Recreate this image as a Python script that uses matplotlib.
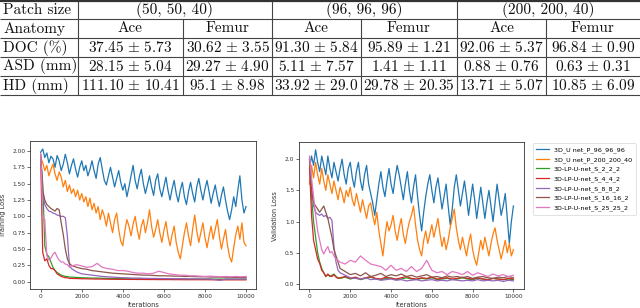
import numpy as np
import matplotlib
matplotlib.use("Agg")
import matplotlib.pyplot as plt

plt.rcParams['mathtext.fontset'] = 'cm'

# ---------------- table data ----------------
patch_sizes = ["(50, 50, 40)", "(96, 96, 96)", "(200, 200, 40)"]
anatomies = ["Ace", "Femur"]
row_names = ["DOC (%)", "ASD (mm)", "HD (mm)"]
doc_vals = ["37.45 ± 5.73", "30.62 ± 3.55", "91.30 ± 5.84", "95.89 ± 1.21", "92.06 ± 5.37", "96.84 ± 0.90"]
asd_vals = ["28.15 ± 5.04", "29.27 ± 4.90", "5.11 ± 7.57", "1.41 ± 1.11", "0.88 ± 0.76", "0.63 ± 0.31"]
hd_vals = ["111.10 ± 10.41", "95.1 ± 8.98", "33.92 ± 29.0", "29.78 ± 20.35", "13.71 ± 5.07", "10.85 ± 6.09"]

# ---------------- loss curves ----------------
labels = ["3D_U net_P_96_96_96", "3D_U net_P_200_200_40", "3D-LP-U-net_S_2_2_2",
          "3D-LP-U-net_S_4_4_2", "3D-LP-U-net_S_8_8_2", "3D-LP-U-net_S_16_16_2",
          "3D-LP-U-net_S_25_25_2"]

it_full = np.arange(0, 10001, 100)
it_low = np.concatenate([np.arange(0, 1500, 100), np.arange(1500, 10001, 250)])

train_p96 = [1.98, 2.03, 1.90, 1.97, 1.82, 1.92, 1.88, 1.75, 1.93, 1.85, 1.70,
             1.80, 1.95, 1.82, 1.65, 1.78, 1.88, 1.72, 1.60, 1.75, 1.85,
             1.70, 1.78, 1.62, 1.72, 1.85, 1.70, 1.58, 1.80, 1.90, 1.72,
             1.55, 1.48, 1.62, 1.75, 1.60, 1.45, 1.58, 1.70, 1.52, 1.40,
             1.50, 1.30, 1.45, 1.62, 1.78, 1.55, 1.42, 1.60, 1.72, 1.50,
             1.35, 1.48, 1.62, 1.45, 1.32, 1.55, 1.65, 1.42, 1.30, 1.45,
             1.60, 1.40, 1.25, 1.42, 1.55, 1.35, 1.22, 1.40, 1.52, 1.30,
             1.18, 1.38, 1.52, 1.35, 1.22, 1.45, 1.58, 1.40, 1.25, 1.42,
             1.55, 1.38, 1.20, 1.35, 1.48, 1.30, 1.15, 1.32, 1.45, 1.25,
             1.08, 0.95, 1.10, 1.30, 1.15, 1.40, 1.62, 1.25, 1.05, 1.15]
train_p200 = [1.90, 1.82, 1.70, 1.78, 1.62, 1.72, 1.80, 1.65, 1.55, 1.68, 1.60,
              1.45, 1.55, 1.38, 1.48, 1.35, 1.42, 1.30, 1.40, 1.25, 1.35,
              1.22, 1.30, 1.15, 1.28, 1.10, 1.20, 1.05, 1.15, 0.95, 1.10,
              1.00, 0.85, 1.05, 0.90, 0.75, 0.95, 1.05, 0.80, 0.62, 0.55,
              0.78, 0.95, 0.85, 0.70, 0.88, 1.00, 0.80, 0.65, 0.85, 0.95,
              0.75, 0.90, 1.10, 0.85, 0.68, 0.80, 0.95, 0.75, 0.60, 0.78,
              0.92, 0.70, 0.55, 0.72, 0.85, 0.60, 0.45, 0.35, 0.55, 0.75,
              0.90, 0.70, 0.55, 0.80, 1.02, 0.78, 0.60, 0.75, 0.90, 0.68,
              0.52, 0.70, 0.85, 0.65, 0.80, 0.95, 0.70, 0.50, 0.65, 0.80,
              0.55, 0.38, 0.30, 0.52, 0.72, 0.85, 0.65, 0.90, 0.60, 0.55]
train_s2 = [1.90, 1.50, 0.55, 0.42, 0.38, 0.30, 0.22, 0.17, 0.14, 0.12, 0.10, 0.09, 0.08, 0.08, 0.07,
            0.07, 0.065, 0.06, 0.058, 0.055, 0.055, 0.052, 0.05, 0.05, 0.048, 0.05, 0.047, 0.045,
            0.047, 0.045, 0.044, 0.045, 0.043, 0.042, 0.044, 0.042, 0.041, 0.042, 0.04, 0.041,
            0.04, 0.04, 0.041, 0.039, 0.04, 0.039, 0.04, 0.038, 0.039, 0.04]
train_s4 = [1.90, 0.45, 0.32, 0.35, 0.25, 0.20, 0.20, 0.17, 0.12, 0.10, 0.08, 0.07, 0.06, 0.06, 0.05,
            0.05, 0.048, 0.045, 0.044, 0.042, 0.04, 0.04, 0.038, 0.037, 0.036, 0.036, 0.035, 0.035,
            0.034, 0.034, 0.033, 0.033, 0.032, 0.032, 0.032, 0.031, 0.031, 0.03, 0.03, 0.03,
            0.03, 0.03, 0.029, 0.029, 0.029, 0.028, 0.028, 0.028, 0.028, 0.028]
train_s8 = [1.95, 1.35, 1.18, 1.12, 1.08, 1.07, 1.05, 1.04, 1.02, 1.01, 1.00, 1.00, 0.98, 0.70, 0.25,
            0.20, 0.15, 0.12, 0.11, 0.10, 0.09, 0.08, 0.075, 0.07, 0.065, 0.06, 0.058, 0.055,
            0.055, 0.052, 0.05, 0.05, 0.048, 0.047, 0.046, 0.045, 0.045, 0.044, 0.043, 0.043,
            0.042, 0.042, 0.041, 0.03, 0.02, 0.04, 0.04, 0.04, 0.04, 0.04]
train_s16 = [1.95, 1.40, 1.25, 1.18, 1.15, 1.12, 1.10, 1.08, 1.12, 1.10, 0.90, 0.72, 0.50, 0.35, 0.28,
             0.25, 0.22, 0.20, 0.19, 0.17, 0.16, 0.15, 0.14, 0.13, 0.125, 0.12, 0.115, 0.11,
             0.105, 0.10, 0.10, 0.095, 0.09, 0.09, 0.088, 0.085, 0.085, 0.08, 0.08, 0.078,
             0.075, 0.075, 0.072, 0.07, 0.07, 0.068, 0.068, 0.066, 0.065, 0.065]
train_s25 = [1.95, 1.00, 0.95, 0.40, 0.33, 0.36, 0.42, 0.45, 0.38, 0.33, 0.30, 0.30, 0.27, 0.26, 0.22,
             0.24, 0.26, 0.24, 0.22, 0.23, 0.28, 0.22, 0.20, 0.19, 0.17, 0.17, 0.16, 0.14,
             0.13, 0.13, 0.12, 0.13, 0.16, 0.14, 0.12, 0.11, 0.10, 0.10, 0.09, 0.09,
             0.085, 0.08, 0.085, 0.08, 0.075, 0.08, 0.075, 0.08, 0.075, 0.08]

val_p96 = [1.85, 2.05, 1.90, 2.15, 1.95, 1.80, 2.05, 1.90, 1.75, 2.05, 1.85,
           1.70, 1.95, 1.80, 1.65, 1.85, 2.00, 1.75, 1.60, 1.85, 1.95,
           1.70, 1.55, 1.80, 1.95, 1.65, 1.50, 1.75, 1.90, 1.60, 1.45,
           1.30, 1.10, 1.35, 1.60, 1.80, 1.55, 1.40, 1.65, 1.85, 1.60,
           1.45, 1.70, 1.90, 1.75, 1.55, 1.35, 1.60, 1.80, 1.50, 1.30,
           1.55, 1.75, 1.40, 1.10, 0.85, 1.15, 1.40, 1.60, 1.75, 1.50,
           1.30, 1.55, 1.70, 1.45, 1.20, 1.40, 1.60, 1.25, 0.95, 1.20,
           1.55, 1.75, 1.50, 1.25, 1.45, 1.65, 1.40, 1.10, 1.35, 1.60,
           1.35, 1.05, 1.30, 1.55, 1.30, 1.05, 1.30, 1.50, 1.25, 1.00,
           1.30, 1.60, 1.35, 1.10, 1.25, 1.45, 1.05, 0.65, 1.00, 1.25]
val_p200 = [1.60, 1.90, 1.70, 1.95, 1.75, 1.60, 1.85, 1.65, 1.50, 1.75, 1.60,
            1.45, 1.65, 1.50, 1.35, 1.55, 1.45, 1.30, 1.50, 1.40, 1.55,
            1.35, 1.25, 1.45, 1.30, 1.15, 1.35, 1.20, 1.05, 1.25, 1.30,
            1.10, 0.95, 1.15, 0.85, 0.65, 0.45, 0.75, 1.00, 0.85, 0.95,
            1.10, 0.85, 0.70, 0.90, 1.05, 0.80, 0.65, 0.85, 1.00, 1.10,
            1.25, 0.95, 0.70, 0.55, 0.45, 0.70, 0.85, 0.65, 0.80, 0.95,
            0.75, 0.90, 1.05, 0.80, 0.60, 0.75, 0.55, 0.70, 0.90, 1.05,
            1.20, 0.90, 0.70, 0.55, 0.75, 0.60, 0.45, 0.65, 0.80, 0.55,
            0.40, 0.30, 0.50, 0.70, 0.55, 0.75, 0.60, 0.45, 0.65, 0.80,
            0.90, 0.70, 0.55, 0.40, 0.55, 0.70, 0.50, 0.65, 0.45, 0.55]
val_s2 = [1.95, 1.40, 1.00, 0.75, 0.50, 0.35, 0.25, 0.18, 0.12, 0.15, 0.12, 0.14, 0.16, 0.12, 0.10,
          0.09, 0.11, 0.08, 0.10, 0.07, 0.09, 0.11, 0.08, 0.07, 0.09, 0.10, 0.07, 0.08,
          0.10, 0.08, 0.07, 0.09, 0.08, 0.10, 0.07, 0.08, 0.09, 0.07, 0.08, 0.10,
          0.08, 0.07, 0.09, 0.08, 0.07, 0.09, 0.08, 0.07, 0.08, 0.07]
val_s4 = [1.90, 1.10, 0.70, 0.55, 0.40, 0.33, 0.22, 0.18, 0.12, 0.16, 0.13, 0.12, 0.15, 0.11, 0.09,
          0.10, 0.12, 0.09, 0.11, 0.08, 0.10, 0.12, 0.09, 0.08, 0.11, 0.09, 0.08, 0.10,
          0.12, 0.09, 0.08, 0.10, 0.09, 0.11, 0.08, 0.09, 0.10, 0.08, 0.09, 0.11,
          0.09, 0.08, 0.10, 0.08, 0.07, 0.09, 0.08, 0.07, 0.09, 0.08]
val_s8 = [2.00, 1.60, 1.25, 1.15, 1.12, 1.10, 1.12, 1.08, 1.10, 1.05, 1.07, 1.02, 0.60, 0.35, 0.22,
          0.18, 0.14, 0.10, 0.09, 0.08, 0.10, 0.07, 0.08, 0.06, 0.07, 0.08, 0.06, 0.07,
          0.05, 0.06, 0.07, 0.05, 0.06, 0.07, 0.05, 0.06, 0.05, 0.07, 0.06, 0.05,
          0.06, 0.05, 0.07, 0.05, 0.06, 0.05, 0.06, 0.04, 0.06, 0.05]
val_s16 = [2.00, 1.50, 1.30, 1.25, 1.20, 1.15, 1.20, 1.25, 1.15, 1.05, 0.90, 0.75, 0.55, 0.45, 0.35,
           0.25, 0.20, 0.15, 0.17, 0.13, 0.18, 0.12, 0.14, 0.17, 0.12, 0.15, 0.13, 0.16,
           0.12, 0.14, 0.11, 0.13, 0.15, 0.11, 0.12, 0.10, 0.13, 0.11, 0.12, 0.10,
           0.12, 0.09, 0.11, 0.12, 0.10, 0.09, 0.11, 0.10, 0.12, 0.10]
val_s25 = [2.05, 1.70, 1.40, 1.10, 0.85, 0.70, 0.55, 0.48, 0.55, 0.60, 0.50, 0.52, 0.45, 0.40, 0.38,
           0.35, 0.32, 0.38, 0.35, 0.45, 0.38, 0.32, 0.30, 0.28, 0.22, 0.30, 0.22, 0.25,
           0.20, 0.28, 0.20, 0.25, 0.38, 0.22, 0.18, 0.20, 0.15, 0.20, 0.18, 0.15,
           0.20, 0.14, 0.18, 0.15, 0.12, 0.16, 0.13, 0.15, 0.12, 0.14]

colors = plt.rcParams['axes.prop_cycle'].by_key()['color'][:7]

fig = plt.figure(figsize=(6.4, 3.08), dpi=100)

# ---------------- table (drawn in pixel coords) ----------------
tab = fig.add_axes([0, 0, 1, 1])
tab.set_xlim(0, 640)
tab.set_ylim(308, 0)
tab.axis("off")

tfont = dict(family=["cmr10", "DejaVu Serif"], fontsize=11, color="#111111")
rule_y = [19, 38, 57, 76, 95]
group_x = [78, 272, 457, 640]
sub_x = [183, 361, 546]
row_y = [10, 28.5, 47.5, 66.5, 85.5]


def cell_text(s):
    # value cells go through mathtext so the ± sign is drawn in Computer Modern
    return "$" + s.replace(" ± ", r"\ {\pm}\ ") + "$"


tab.hlines(1, 0, 640, color="#333333", lw=1.6)
tab.hlines(rule_y, 0, 640, color="#444444", lw=0.8)
tab.vlines(group_x[:3], 1, 95, color="#444444", lw=0.8)
tab.vlines(sub_x, 19, 95, color="#444444", lw=0.8)

tab.text(3, row_y[0], "Patch size", ha="left", va="center", **tfont)
tab.text(3, row_y[1], "Anatomy", ha="left", va="center", **tfont)
cells = []
for g in range(3):
    x0, x1 = group_x[g], group_x[g + 1]
    tab.text((x0 + x1) / 2, row_y[0], patch_sizes[g], ha="center", va="center", **tfont)
    cells.append((x0 + sub_x[g]) / 2)
    cells.append((sub_x[g] + x1) / 2)
for j, cx in enumerate(cells):
    tab.text(cx, row_y[1], anatomies[j % 2], ha="center", va="center", **tfont)
for r, vals in enumerate([doc_vals, asd_vals, hd_vals]):
    tab.text(3, row_y[r + 2], row_names[r], ha="left", va="center", **tfont)
    for j, cx in enumerate(cells):
        tab.text(cx, row_y[r + 2], cell_text(vals[j]), ha="center", va="center",
                 fontsize=11, color="#111111")

# ---------------- loss plots ----------------
def loss_axes(rect, series, ylabel, ylim, yticks, yfmt, ylab_x, xlab_y):
    ax = fig.add_axes(rect)
    lines = []
    for k, (xs, ys) in enumerate(series):
        ln, = ax.plot(xs, ys, color=colors[k], lw=0.9, label=labels[k])
        lines.append(ln)
    ax.set_xlim(-500, 10500)
    ax.set_ylim(*ylim)
    ax.set_xticks([0, 2000, 4000, 6000, 8000, 10000])
    ax.set_yticks(yticks)
    ax.set_yticklabels([yfmt % t for t in yticks])
    ax.tick_params(labelsize=4.2, length=2, width=0.5, pad=1.5, colors="#333333")
    for s in ax.spines.values():
        s.set_linewidth(0.6)
        s.set_color("#333333")
    ax.set_xlabel("Iterations", fontsize=4.8, color="#333333")
    ax.set_ylabel(ylabel, fontsize=4.8, color="#333333")
    ax.yaxis.set_label_coords(ylab_x, 0.5)
    ax.xaxis.set_label_coords(0.5, xlab_y)
    return lines

train = [(it_full, train_p96), (it_full, train_p200), (it_low, train_s2), (it_low, train_s4),
         (it_low, train_s8), (it_low, train_s16), (it_low, train_s25)]
val = [(it_full, val_p96), (it_full, val_p200), (it_low, val_s2), (it_low, val_s4),
       (it_low, val_s8), (it_low, val_s16), (it_low, val_s25)]

handles = loss_axes([30.4 / 640, 19 / 308, 225.9 / 640, 148 / 308], train, "Training Loss",
                    (-0.112, 2.153), [0, 0.25, 0.5, 0.75, 1.0, 1.25, 1.5, 1.75, 2.0], "%.2f",
                    -0.108, -0.085)
loss_axes([299.3 / 640, 19 / 308, 224.3 / 640, 146.7 / 308], val, "Validation Loss",
          (-0.08, 2.27), [0, 0.5, 1.0, 1.5, 2.0], "%.1f", -0.094, -0.09)

leg = fig.legend(handles, labels, loc="upper left", bbox_to_anchor=(532.5 / 640, 1 - 143 / 308),
                 fontsize=4.6, handlelength=2.0, labelspacing=0.55, borderpad=0.6,
                 handletextpad=0.7, borderaxespad=0, frameon=True)
leg.get_frame().set_linewidth(0.5)

fig.savefig("out.png", dpi=100)
